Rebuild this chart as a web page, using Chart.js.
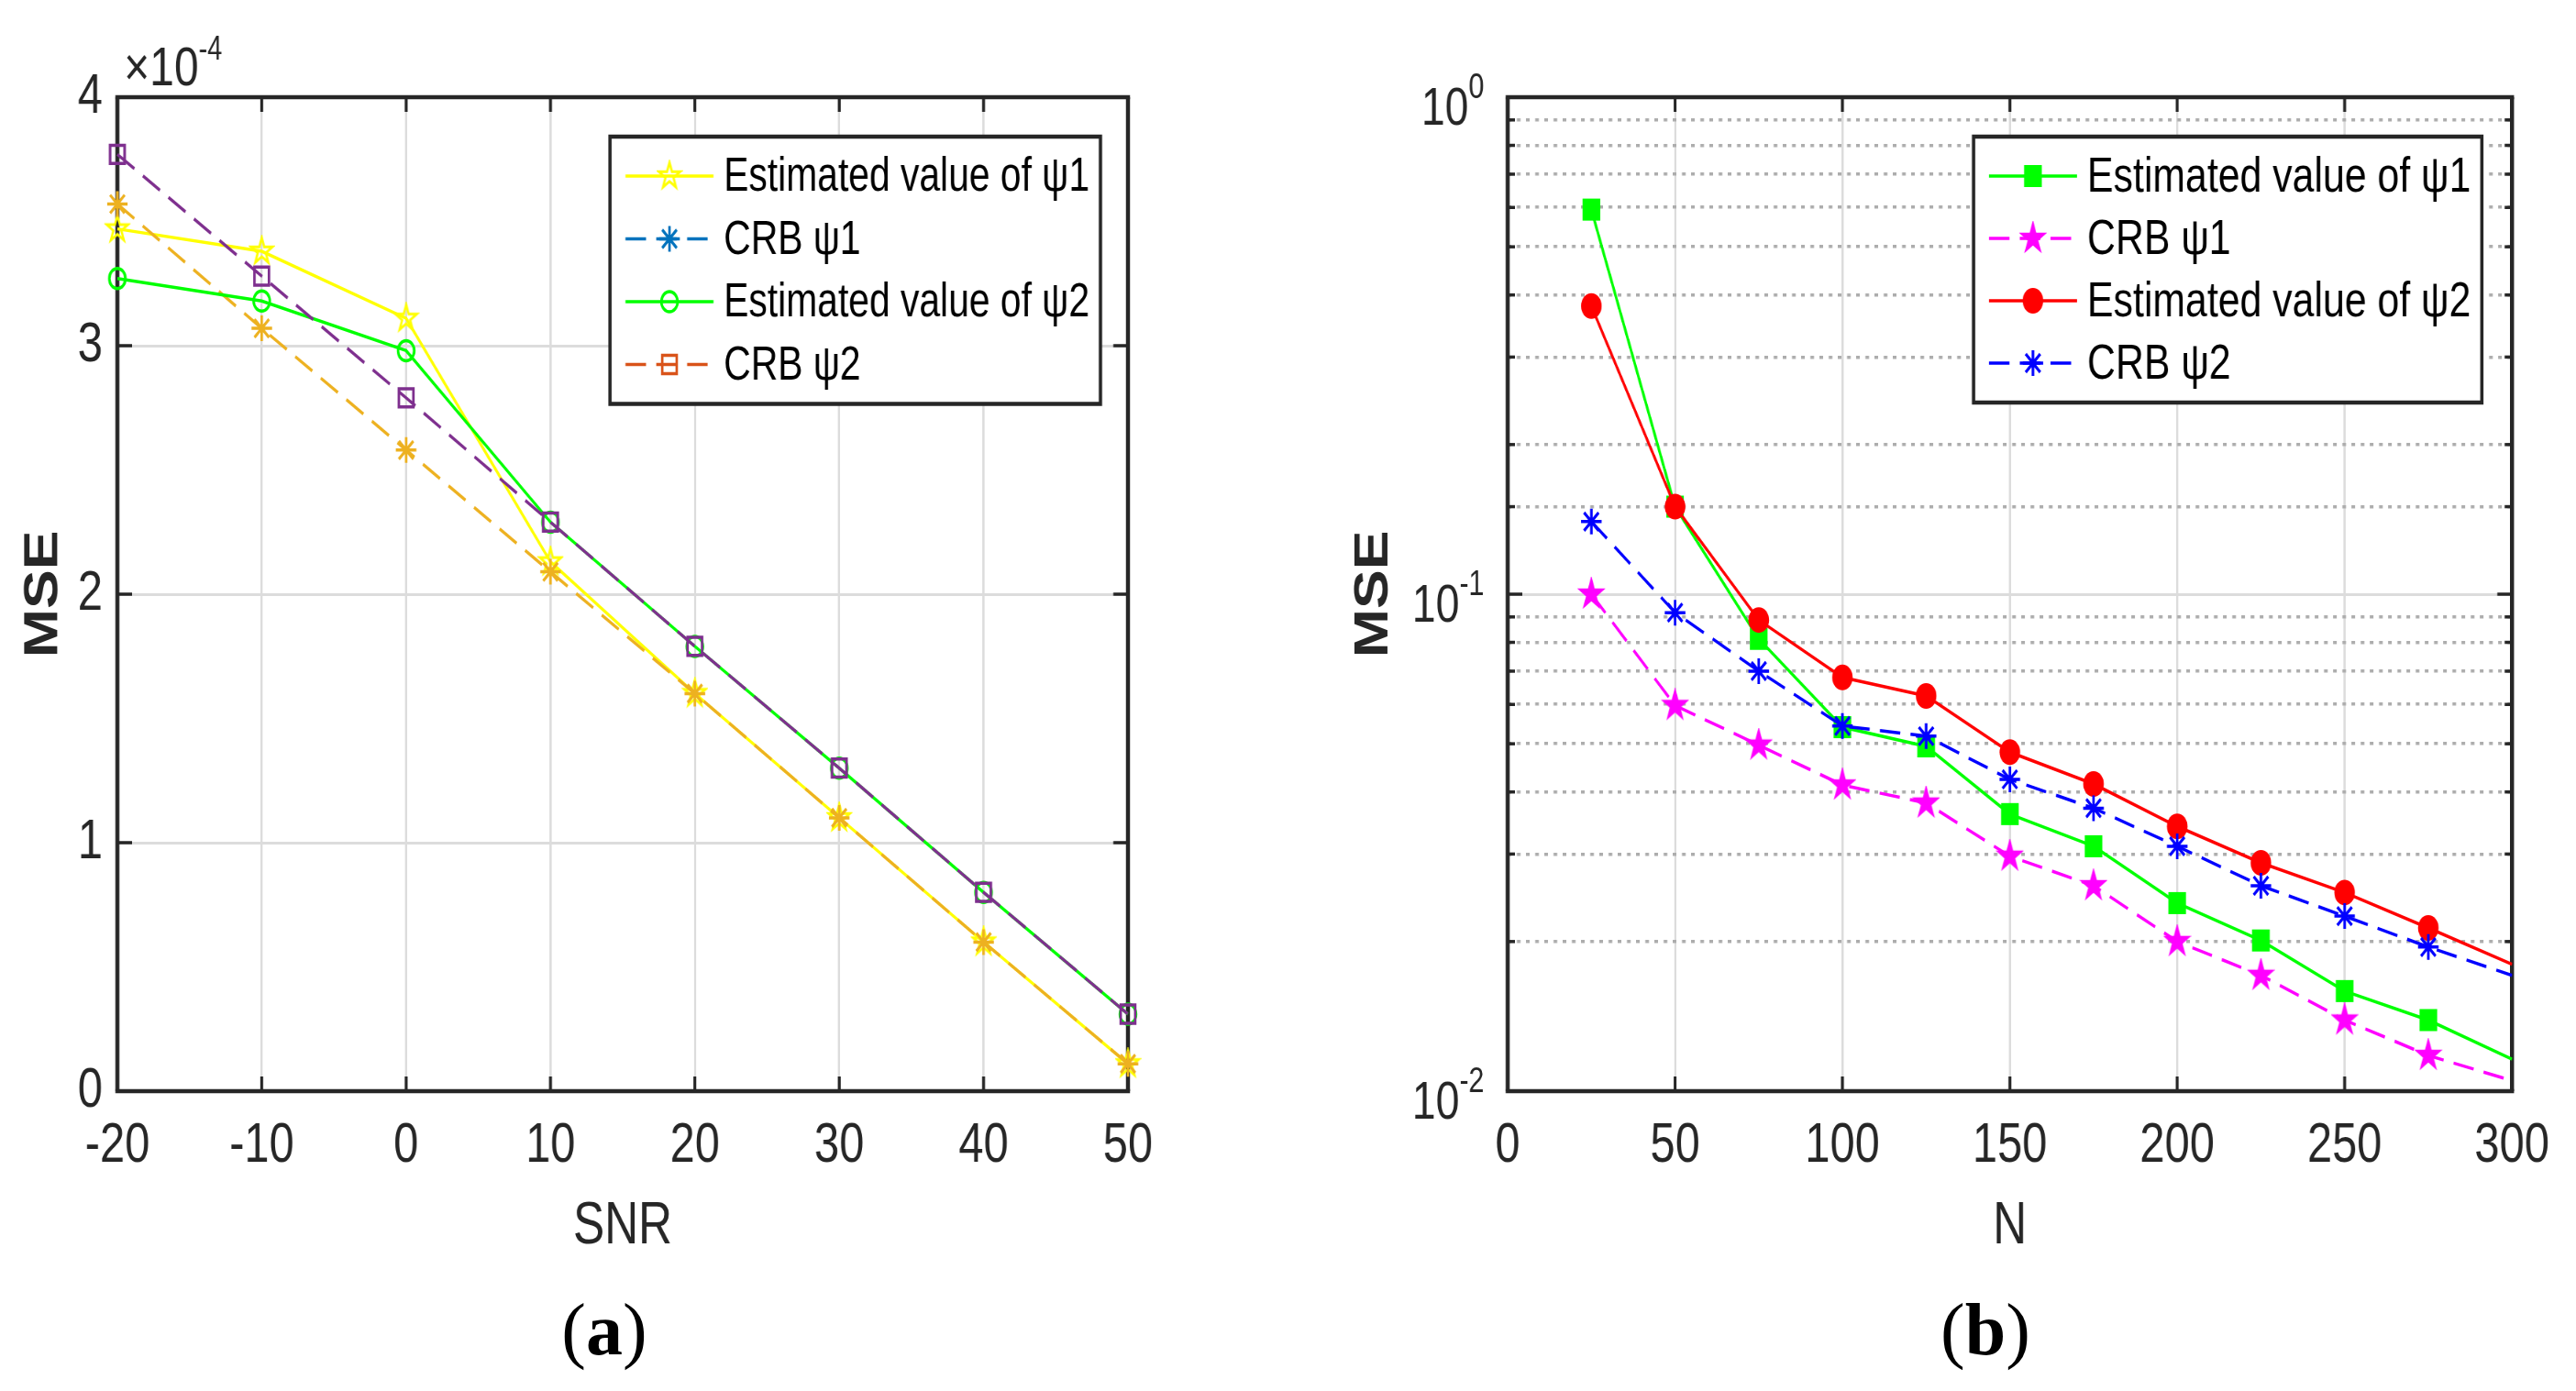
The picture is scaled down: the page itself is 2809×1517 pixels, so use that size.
<!DOCTYPE html>
<html>
<head>
<meta charset="utf-8">
<script src="https://cdn.jsdelivr.net/npm/chart.js@4.4.1/dist/chart.umd.min.js"></script>
<style>
  body { margin: 0; background: #fff; width: 2809px; height: 1517px; overflow: hidden; position: relative; }
  canvas { position: absolute; top: 0; }
  .panel { position: absolute; top: 1400px; width: 300px; text-align: center;
           font-family: 'Liberation Serif', 'Times New Roman', serif; font-size: 80px; line-height: 100px; color: #000; }
</style>
</head>
<body>
<!-- the original figure is squeezed horizontally, so the canvases are drawn wide and shown narrower -->
<canvas id="snrChart" width="1755" height="1517" style="left:0px;width:1404px;height:1517px"></canvas>
<canvas id="nChart" width="1756" height="1517" style="left:1404px;width:1405px;height:1517px"></canvas>
<div class="panel" style="left:509px">(<b>a</b>)</div>
<div class="panel" style="left:2015px">(<b>b</b>)</div>

<script>
// ---- data (a): MSE vs SNR, values in units of 1e-4
const snrValues = [-20, -10, 0, 10, 20, 30, 40, 50];
const snrEstPsi1 = [3.47, 3.38, 3.11, 2.13, 1.60, 1.10, 0.60, 0.11];
const snrCrbPsi1 = [3.57, 3.07, 2.58, 2.09, 1.60, 1.10, 0.60, 0.11];
const snrEstPsi2 = [3.27, 3.18, 2.98, 2.29, 1.79, 1.30, 0.80, 0.31];
const snrCrbPsi2 = [3.77, 3.28, 2.79, 2.29, 1.79, 1.30, 0.80, 0.31];
const snrTicks = [-20, -10, 0, 10, 20, 30, 40, 50];
const mseTicks = [0, 1, 2, 3, 4];

// ---- data (b): MSE vs N (log axis)
const nValues = [25, 50, 75, 100, 125, 150, 175, 200, 225, 250, 275, 300];
const nEstPsi1 = [0.594, 0.150, 0.0813, 0.054, 0.0494, 0.0361, 0.0311, 0.0239, 0.0201, 0.0159, 0.0139, 0.0116];
const nCrbPsi1 = [0.100, 0.0597, 0.0497, 0.0413, 0.0380, 0.0297, 0.0259, 0.0200, 0.0171, 0.0139, 0.0118, 0.0105];
const nEstPsi2 = [0.380, 0.150, 0.0887, 0.0680, 0.0624, 0.0481, 0.0415, 0.0341, 0.0288, 0.0251, 0.0213, 0.0180];
const nCrbPsi2 = [0.140, 0.0918, 0.0700, 0.0543, 0.0518, 0.0424, 0.0371, 0.0311, 0.0259, 0.0225, 0.0195, 0.0171];
const nTicks = [0, 50, 100, 150, 200, 250, 300];
const mseDecades = [-2, -1, 0];

const seriesNames = ['Estimated value of ψ1', 'CRB ψ1', 'Estimated value of ψ2', 'CRB ψ2'];

const FONT = "'Liberation Sans', Arial, Helvetica, sans-serif";
const INK = '#262626';
const DASH = [28, 14];
Chart.defaults.font.family = FONT;
Chart.defaults.color = INK;

function pairs(xs, ys) {
  return xs.map((x, i) => ({x: x, y: ys[i]}));
}

function isDecade(v) {
  const l = Math.log10(v);
  return Math.abs(l - Math.round(l)) < 1e-9;
}

// pentagram marker, like matlab 'p'
function makePentagram(R, fill, stroke, lw) {
  const c = document.createElement('canvas');
  const s = Math.ceil(2 * (R + lw));
  c.width = s;
  c.height = s;
  const g = c.getContext('2d');
  g.translate(s / 2, s / 2);
  g.beginPath();
  for (let k = 0; k < 10; k++) {
    const ang = -Math.PI / 2 + k * Math.PI / 5;
    const r = k % 2 ? R * 0.382 : R;
    g.lineTo(r * Math.cos(ang), r * Math.sin(ang));
  }
  g.closePath();
  if (fill) { g.fillStyle = fill; g.fill(); }
  g.strokeStyle = stroke;
  g.lineWidth = lw;
  g.stroke();
  return c;
}

// axes box with inward ticks (drawn over the grid, under the lines)
const boxPlugin = {
  id: 'matlabBox',
  beforeDatasetsDraw(chart, args, o) {
    const {ctx, chartArea: a, scales} = chart;
    ctx.save();
    ctx.strokeStyle = INK;
    ctx.setLineDash([]);
    const seg = (x1, y1, x2, y2) => { ctx.beginPath(); ctx.moveTo(x1, y1); ctx.lineTo(x2, y2); ctx.stroke(); };
    ctx.lineWidth = 4;
    scales.x.ticks.forEach(t => {
      const px = scales.x.getPixelForValue(t.value);
      if (px < a.left + 2 || px > a.right - 2) return;
      seg(px, a.bottom, px, a.bottom - 16);
      seg(px, a.top, px, a.top + 16);
    });
    ctx.lineWidth = 3.5;
    scales.y.ticks.forEach(t => {
      const py = scales.y.getPixelForValue(t.value);
      if (py < a.top + 2 || py > a.bottom - 2) return;
      const len = (o.log && !isDecade(t.value)) ? 10 : 20;
      seg(a.left, py, a.left + len, py);
      seg(a.right, py, a.right - len, py);
    });
    ctx.lineWidth = 4.5;
    seg(a.left - 2.75, a.top, a.right + 2.75, a.top);
    seg(a.left - 2.75, a.bottom, a.right + 2.75, a.bottom);
    ctx.lineWidth = 5.5;
    seg(a.left, a.top, a.left, a.bottom);
    seg(a.right, a.top, a.right, a.bottom);
    ctx.restore();
  }
};

// legend box inside the plot, top right
const legendPlugin = {
  id: 'insetLegend',
  afterDraw(chart, args, o) {
    const {ctx, chartArea: a} = chart;
    const sets = chart.data.datasets;
    ctx.save();
    ctx.font = o.fontSize + 'px ' + FONT;
    const textW = Math.max(...sets.map(d => ctx.measureText(d.label).width));
    const w = o.textX + textW + o.padRight;
    const h = 2 * o.firstRow + (sets.length - 1) * o.rowGap;
    const x0 = a.right - o.right - w;
    const y0 = a.top + o.top;
    ctx.fillStyle = '#fff';
    ctx.fillRect(x0, y0, w, h);
    ctx.strokeStyle = INK;
    ctx.lineWidth = 4.5;
    ctx.strokeRect(x0, y0, w, h);
    sets.forEach((d, i) => {
      const y = y0 + o.firstRow + i * o.rowGap;
      const col = d.legendColor || d.borderColor;
      ctx.strokeStyle = col;
      ctx.lineWidth = d.borderWidth;
      ctx.setLineDash(d.borderDash || []);
      ctx.beginPath();
      ctx.moveTo(x0 + o.sampleX, y);
      ctx.lineTo(x0 + o.sampleX + o.sampleLen, y);
      ctx.stroke();
      ctx.setLineDash([]);
      const cx = x0 + o.sampleX + o.sampleLen / 2;
      const style = d.legendPointStyle || d.pointStyle;
      ctx.fillStyle = d.pointBackgroundColor;
      ctx.strokeStyle = col;
      ctx.lineWidth = d.pointBorderWidth;
      Chart.helpers.drawPoint(ctx, {pointStyle: style, radius: d.markerSize, borderWidth: d.pointBorderWidth, rotation: 0}, cx, y);
      ctx.fillStyle = '#000';
      ctx.textAlign = 'left';
      ctx.textBaseline = 'middle';
      ctx.fillText(d.label, x0 + o.textX, y + 2);
    });
    ctx.restore();
  }
};

// "x10^-4" multiplier above the left axis
const multiplierPlugin = {
  id: 'multiplier',
  afterDraw(chart) {
    const {ctx, chartArea: a} = chart;
    ctx.save();
    ctx.fillStyle = INK;
    ctx.textAlign = 'left';
    ctx.textBaseline = 'alphabetic';
    ctx.font = '60px ' + FONT;
    ctx.fillText('×10', a.left + 9, a.top - 13);
    const w = ctx.measureText('×10').width;
    ctx.font = '36px ' + FONT;
    ctx.fillText('-4', a.left + 9 + w, a.top - 41);
    ctx.restore();
  }
};

// 10^n labels on the log axis
const decadePlugin = {
  id: 'decadeLabels',
  afterDraw(chart) {
    const {ctx, chartArea: a} = chart;
    const sy = chart.scales.y;
    ctx.save();
    ctx.fillStyle = INK;
    ctx.textAlign = 'left';
    ctx.textBaseline = 'alphabetic';
    mseDecades.forEach(e => {
      const py = sy.getPixelForValue(Math.pow(10, e));
      ctx.font = '58px ' + FONT;
      const wb = ctx.measureText('10').width;
      ctx.font = '38px ' + FONT;
      const we = ctx.measureText(String(e)).width;
      const x0 = a.left - 32 - wb - we;
      ctx.font = '58px ' + FONT;
      ctx.fillText('10', x0, py + 30);
      ctx.font = '38px ' + FONT;
      ctx.fillText(String(e), x0 + wb, py + 1);
    });
    ctx.restore();
  }
};

const legendOpts = {fontSize: 51, firstRow: 43, rowGap: 68.5, sampleX: 21, sampleLen: 120, textX: 155, padRight: 15, top: 43};

// ---------------- chart (a)
new Chart(document.getElementById('snrChart'), {
  type: 'line',
  data: {
    datasets: [{
      label: seriesNames[0],
      data: pairs(snrValues, snrEstPsi1),
      borderColor: '#FFFF00', borderWidth: 3.5,
      pointStyle: makePentagram(15, null, '#FFFF00', 3), markerSize: 14,
      pointRadius: 14, pointBorderWidth: 3, pointBackgroundColor: 'rgba(0,0,0,0)',
      order: 4
    }, {
      label: seriesNames[1],
      data: pairs(snrValues, snrCrbPsi1),
      borderColor: '#EDB120', legendColor: '#0072BD', borderWidth: 3.5, borderDash: DASH,
      pointStyle: 'star', markerSize: 14,
      pointRadius: 14, pointBorderWidth: 3.5, pointBorderColor: '#EDB120', pointBackgroundColor: 'rgba(0,0,0,0)',
      order: 3
    }, {
      label: seriesNames[2],
      data: pairs(snrValues, snrEstPsi2),
      borderColor: '#00FF00', borderWidth: 3.5,
      pointStyle: 'circle', markerSize: 11,
      pointRadius: 11, pointBorderWidth: 3.5, pointBackgroundColor: 'rgba(0,0,0,0)',
      order: 2
    }, {
      label: seriesNames[3],
      data: pairs(snrValues, snrCrbPsi2),
      borderColor: '#7E2F8E', legendColor: '#D95319', borderWidth: 3.5, borderDash: DASH,
      pointStyle: 'rect', markerSize: 14,
      pointRadius: 14, pointBorderWidth: 3.5, pointBackgroundColor: 'rgba(0,0,0,0)',
      order: 1
    }]
  },
  options: {
    responsive: false, animation: false, devicePixelRatio: 1, events: [],
    clip: false,
    layout: {padding: {top: 106, right: 217.5, bottom: 0, left: 0}},
    plugins: {
      legend: {display: false},
      tooltip: {enabled: false},
      insetLegend: Object.assign({}, legendOpts, {right: 37.5}),
      matlabBox: {log: false}
    },
    scales: {
      x: {
        type: 'linear', min: -20, max: 50,
        afterBuildTicks: s => { s.ticks = snrTicks.map(v => ({value: v})); },
        afterFit: s => { s.height = 327; s.paddingLeft = 0; s.paddingRight = 0; },
        ticks: {font: {size: 61}, color: INK, padding: 24, maxRotation: 0, autoSkip: false},
        grid: {color: '#dcdcdc', lineWidth: 3, drawTicks: false},
        border: {display: false},
        title: {display: true, text: 'SNR', font: {size: 64}, color: INK, padding: {top: 0, bottom: 140.6}}
      },
      y: {
        type: 'linear', min: 0, max: 4,
        afterBuildTicks: s => { s.ticks = mseTicks.map(v => ({value: v})); },
        afterFit: s => { s.width = 160; s.paddingTop = 0; s.paddingBottom = 0; },
        ticks: {font: {size: 61}, color: INK, padding: 20, autoSkip: false},
        grid: {color: '#dcdcdc', lineWidth: 3, drawTicks: false},
        border: {display: false},
        title: {display: true, text: 'MSE', font: {size: 64, weight: 'bold'}, color: INK, padding: {top: 21.6, bottom: 0}}
      }
    }
  },
  plugins: [boxPlugin, legendPlugin, multiplierPlugin]
});

// ---------------- chart (b)
const hideLast = size => (c => nValues[c.dataIndex] >= 300 ? 0 : size);

new Chart(document.getElementById('nChart'), {
  type: 'line',
  data: {
    datasets: [{
      label: seriesNames[0],
      data: pairs(nValues, nEstPsi1),
      borderColor: '#00FF00', borderWidth: 3.5,
      pointStyle: 'rect', markerSize: 17,
      pointRadius: hideLast(17), pointBorderWidth: 0, pointBackgroundColor: '#00FF00',
      order: 4
    }, {
      label: seriesNames[1],
      data: pairs(nValues, nCrbPsi1),
      borderColor: '#FF00FF', borderWidth: 3.5, borderDash: DASH,
      pointStyle: makePentagram(17, '#FF00FF', '#FF00FF', 2), markerSize: 17,
      pointRadius: hideLast(17), pointBorderWidth: 2, pointBackgroundColor: '#FF00FF',
      order: 3
    }, {
      label: seriesNames[2],
      data: pairs(nValues, nEstPsi2),
      borderColor: '#FF0000', borderWidth: 3.5,
      pointStyle: 'circle', markerSize: 14,
      pointRadius: hideLast(14), pointBorderWidth: 0, pointBackgroundColor: '#FF0000',
      order: 2
    }, {
      label: seriesNames[3],
      data: pairs(nValues, nCrbPsi2),
      borderColor: '#0000FF', borderWidth: 3.5, borderDash: DASH,
      pointStyle: 'star', markerSize: 14,
      pointRadius: hideLast(14), pointBorderWidth: 3.5, pointBackgroundColor: 'rgba(0,0,0,0)',
      order: 1
    }]
  },
  options: {
    responsive: false, animation: false, devicePixelRatio: 1, events: [],
    clip: false,
    layout: {padding: {top: 106, right: 87.25, bottom: 0, left: 0}},
    plugins: {
      legend: {display: false},
      tooltip: {enabled: false},
      insetLegend: Object.assign({}, legendOpts, {right: 41, rowGap: 68, fontSize: 53.5}),
      matlabBox: {log: true}
    },
    scales: {
      x: {
        type: 'linear', min: 0, max: 300,
        afterBuildTicks: s => { s.ticks = nTicks.map(v => ({value: v})); },
        afterFit: s => { s.height = 327; s.paddingLeft = 0; s.paddingRight = 0; },
        ticks: {font: {size: 61}, color: INK, padding: 24, maxRotation: 0, autoSkip: false},
        grid: {color: '#dcdcdc', lineWidth: 3, drawTicks: false},
        border: {display: false},
        title: {display: true, text: 'N', font: {size: 64}, color: INK, padding: {top: 0, bottom: 140.6}}
      },
      y: {
        type: 'logarithmic', min: 0.01, max: 1,
        afterFit: s => { s.width = 300; s.paddingTop = 0; s.paddingBottom = 0; },
        ticks: {callback: () => '', autoSkip: false, padding: 20},
        grid: {
          color: c => (c.tick && !isDecade(c.tick.value)) ? '#adadad' : '#dcdcdc',
          lineWidth: c => (c.tick && !isDecade(c.tick.value)) ? 3.5 : 3,
          drawTicks: false
        },
        border: {display: false, dash: c => (c.tick && !isDecade(c.tick.value)) ? [5, 7.5] : []},
        title: {display: true, text: 'MSE', font: {size: 64, weight: 'bold'}, color: INK, padding: {top: 80, bottom: 0}}
      }
    }
  },
  plugins: [boxPlugin, legendPlugin, decadePlugin]
});
</script>
</body>
</html>
